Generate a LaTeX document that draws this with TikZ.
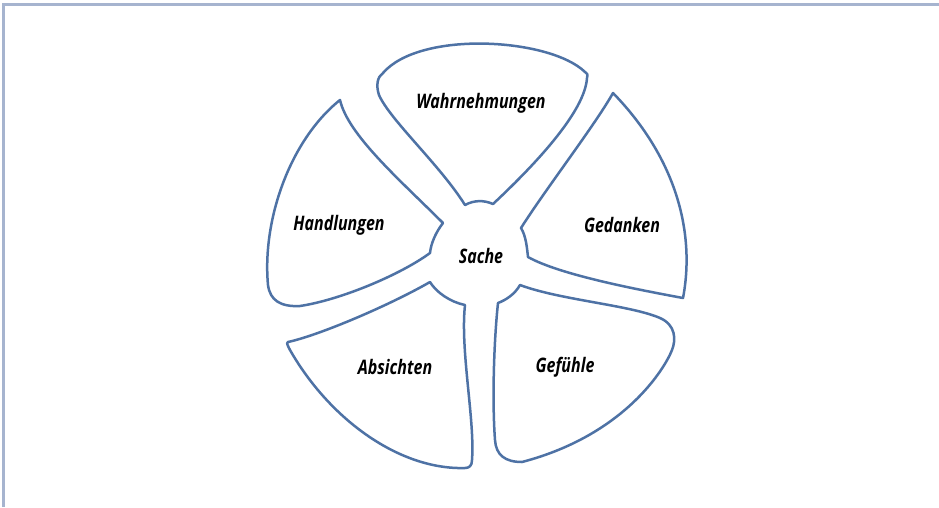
\documentclass[tikz,border=0pt]{standalone}
\usepackage{fontspec}
\setmainfont{Open Sans}
\newfontfamily\handfont{Open Sans}[FakeStretch=0.8]
\definecolor{petal}{HTML}{4E72A5}
\definecolor{frame}{HTML}{A6B4CF}
\tikzset{
  petalline/.style={draw=petal, line width=2.5pt, line join=round, line cap=round},
  lbl/.style={font=\handfont\bfseries\itshape\fontsize{20}{22}\selectfont, text=black, inner sep=0pt},
}
\begin{document}
\begin{tikzpicture}[x=1pt,y=-1pt]
\useasboundingbox (0,0) rectangle (939,507);
\fill[white] (0,0) rectangle (939,507);
% frame
\coordinate (fa) at (3.5,507);
\coordinate (fb) at (3.5,4.5);
\coordinate (fc) at (939,4.5);
\draw[frame, line width=2.2pt] (fa) -- (fb) -- (fc);

% Wahrnehmungen
\draw[petalline] (465,205) .. controls (474,200) and (484,200) .. (493,204)
  .. controls (540,160) and (585,110) .. (587,78)
  .. controls (588,74) and (587,73) .. (585,72)
  .. controls (550,38) and (420,30) .. (383,73)
  .. controls (377,77) and (376,86) .. (379,95)
  .. controls (390,120) and (440,165) .. cycle;
% Gedanken
\draw[petalline] (613,93) .. controls (595,125) and (545,190) .. (521,228)
  .. controls (526,236) and (527,248) .. (528,257)
  .. controls (560,275) and (640,290) .. (683,298)
  .. controls (695,235) and (678,160) .. cycle;
% Gefuehle
\draw[petalline] (498,303) .. controls (506,300) and (515,294) .. (520,285)
  .. controls (560,300) and (630,305) .. (660,318)
  .. controls (676,325) and (676,340) .. (672,350)
  .. controls (665,368) and (625,435) .. (522,462)
  .. controls (505,462) and (496,455) .. (495,440)
  .. controls (492,400) and (494,340) .. cycle;
% Absichten
\draw[petalline] (430,282) .. controls (436,292) and (450,302) .. (465,305)
  .. controls (460,350) and (475,420) .. (472,460)
  .. controls (472,466) and (469,468) .. (465,468)
  .. controls (400,470) and (330,420) .. (290,350)
  .. controls (288,346) and (286,343) .. (288,342)
  .. controls (320,335) and (390,305) .. cycle;
% Handlungen
\draw[petalline] (340,100) .. controls (348,135) and (400,180) .. (443,223)
  .. controls (436,232) and (431,243) .. (430,253)
  .. controls (400,275) and (340,300) .. (300,306)
  .. controls (280,307) and (270,300) .. (268,285)
  .. controls (262,220) and (290,140) .. cycle;

% labels
\node[lbl] (sache) at (481,256) {Sache};
\node[lbl] (wahr) at (481,103) {Wahrnehmungen};
\node[lbl] (ged) at (622,225) {Gedanken};
\node[lbl] (gef) at (565,367) {Gefühle};
\node[lbl] (abs) at (395,367) {Absichten};
\node[lbl] (hand) at (339,225) {Handlungen};
\end{tikzpicture}
\end{document}
